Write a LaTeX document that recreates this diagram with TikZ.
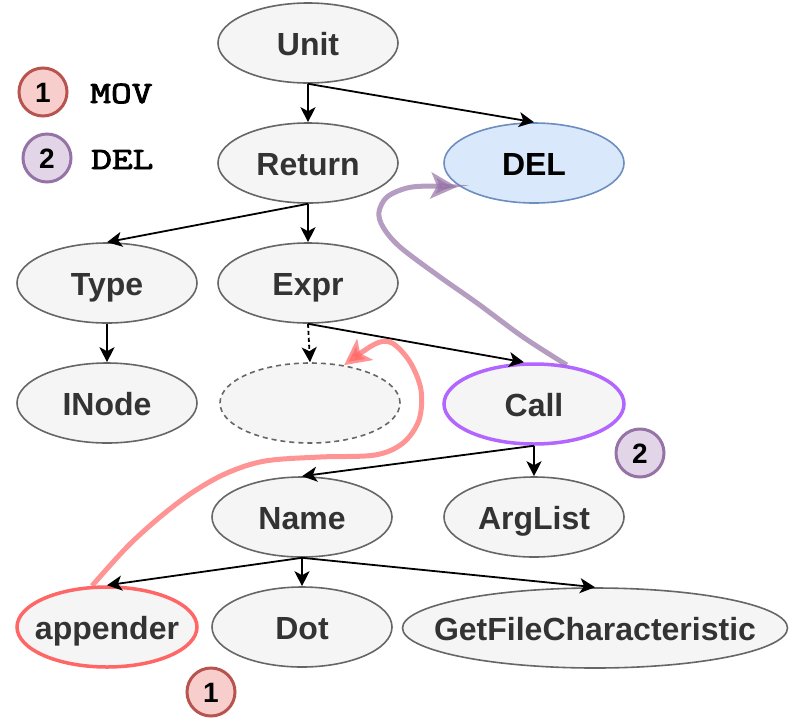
\documentclass[tikz,border=0pt]{standalone}
\usepackage{fontspec}
\setmainfont{Liberation Sans}
\newfontfamily\legmono{Latin Modern Mono}[FakeBold=3,FakeStretch=1.3]
\usetikzlibrary{shapes.geometric,arrows.meta}
\definecolor{nodeline}{HTML}{666666}
\definecolor{nodefill}{HTML}{F5F5F5}
\definecolor{nodetext}{HTML}{333333}
\definecolor{delfill}{HTML}{DAE8FC}
\definecolor{deldraw}{HTML}{6C8EBF}
\definecolor{callpurple}{HTML}{B266FF}
\definecolor{appred}{HTML}{FF6666}
\definecolor{bonefill}{HTML}{F8CECC}
\definecolor{bonedraw}{HTML}{B85450}
\definecolor{btwofill}{HTML}{E1D5E7}
\definecolor{btwodraw}{HTML}{9673A6}
\newcommand\mklbl[1]{\makebox[0pt]{#1}}
\tikzset{
  ast/.style={ellipse, draw=nodeline, fill=nodefill, line width=1.6pt,
    minimum width=180pt, minimum height=80pt, inner sep=0pt, text=nodetext,
    font=\fontsize{32}{36}\selectfont\bfseries, text height=24pt, text depth=0pt},
  edge/.style={line width=1.8pt, -{Stealth[length=15pt,width=15pt,inset=4pt]}},
  badge/.style={circle, line width=3pt, minimum size=48pt, inner sep=0pt,
    font=\fontsize{28}{30}\selectfont\bfseries, text height=20pt, text depth=0pt},
  legtext/.style={inner sep=0pt, anchor=base west, font=\legmono\fontsize{31}{36}\selectfont},
  movline/.style={line width=5pt, draw=appred, opacity=0.7, -{Stealth[length=26pt,width=26pt,inset=6pt]}},
  delline/.style={line width=5pt, draw=btwodraw, opacity=0.7, -{Stealth[length=26pt,width=26pt,inset=6pt]}}
}
\begin{document}
\begin{tikzpicture}[x=1pt,y=-1pt]
\useasboundingbox (0,0) rectangle (795,721);
% nodes
\node[ast] (unit) at (308,43) {\mklbl{Unit}};
\node[ast] (ret) at (308,163) {\mklbl{Return}};
\node[ast, fill=delfill, draw=deldraw, text=black] (del) at (534,163) {\mklbl{DEL}};
\node[ast] (type) at (107,283) {\mklbl{Type}};
\node[ast] (expr) at (308,283) {\mklbl{Expr}};
\node[ast] (inode) at (107,403) {\mklbl{INode}};
\node[ast, dash pattern=on 5pt off 4pt] (empty) at (310,403) {\mklbl{}};
\node[ast, draw=callpurple, line width=3.5pt] (call) at (534,404) {\mklbl{Call}};
\node[ast] (name) at (302,517) {\mklbl{Name}};
\node[ast] (arglist) at (534,517) {\mklbl{ArgList}};
\node[ast, draw=appred, line width=3.5pt] (app) at (107,627) {\mklbl{appender}};
\node[ast] (dot) at (302,627) {\mklbl{Dot}};
\node[ast, minimum width=385pt] (gfc) at (595,628) {\mklbl{GetFileCharacteristic}};
% badges and legend
\node[badge, fill=bonefill, draw=bonedraw] (legone) at (43,92) {1};
\node[badge, fill=btwofill, draw=btwodraw] (legtwo) at (47,158) {2};
\node[legtext] (movtxt) at (90,103) {MOV};
\node[legtext] (deltxt) at (91,169) {DEL};
\node[badge, fill=btwofill, draw=btwodraw] (callbadge) at (640,453) {2};
\node[badge, fill=bonefill, draw=bonedraw] (appbadge) at (211,692) {1};
% edges
\draw[edge] (unit.south) -- (ret.north);
\draw[edge] (unit.south) -- (del.north);
\draw[edge] (ret.south) -- (type.north);
\draw[edge] (ret.south) -- (expr.north);
\draw[edge] (type.south) -- (inode.north);
\draw[edge, dash pattern=on 4pt off 3pt] (expr.south) -- (empty.north);
\draw[edge] (expr.south) -- ([xshift=-10pt]call.north);
\draw[edge] (call.south) -- (name.north);
\draw[edge] (call.south) -- (arglist.north);
\draw[edge] (name.south) -- (app.north);
\draw[edge] (name.south) -- (dot.north);
\draw[edge] (name.south) -- (gfc.north);
% move / delete curves
\coordinate (delin) at (457,187);
\draw[delline] plot[smooth, tension=0.55] coordinates {(call.50) (523,337) (477,303) (440,277) (400,247) (383,227) (379,212) (387,197) (407,188) (430,186) (delin)};
\draw[movline] plot[smooth, tension=0.55] coordinates {(app.110) (127,547) (160,517) (193,492) (227,473) (265,461) (320,457) (375,455) (403,443) (419,420) (421,390) (410,362) (392,343) (375,344) (empty.48)};
\end{tikzpicture}
\end{document}
